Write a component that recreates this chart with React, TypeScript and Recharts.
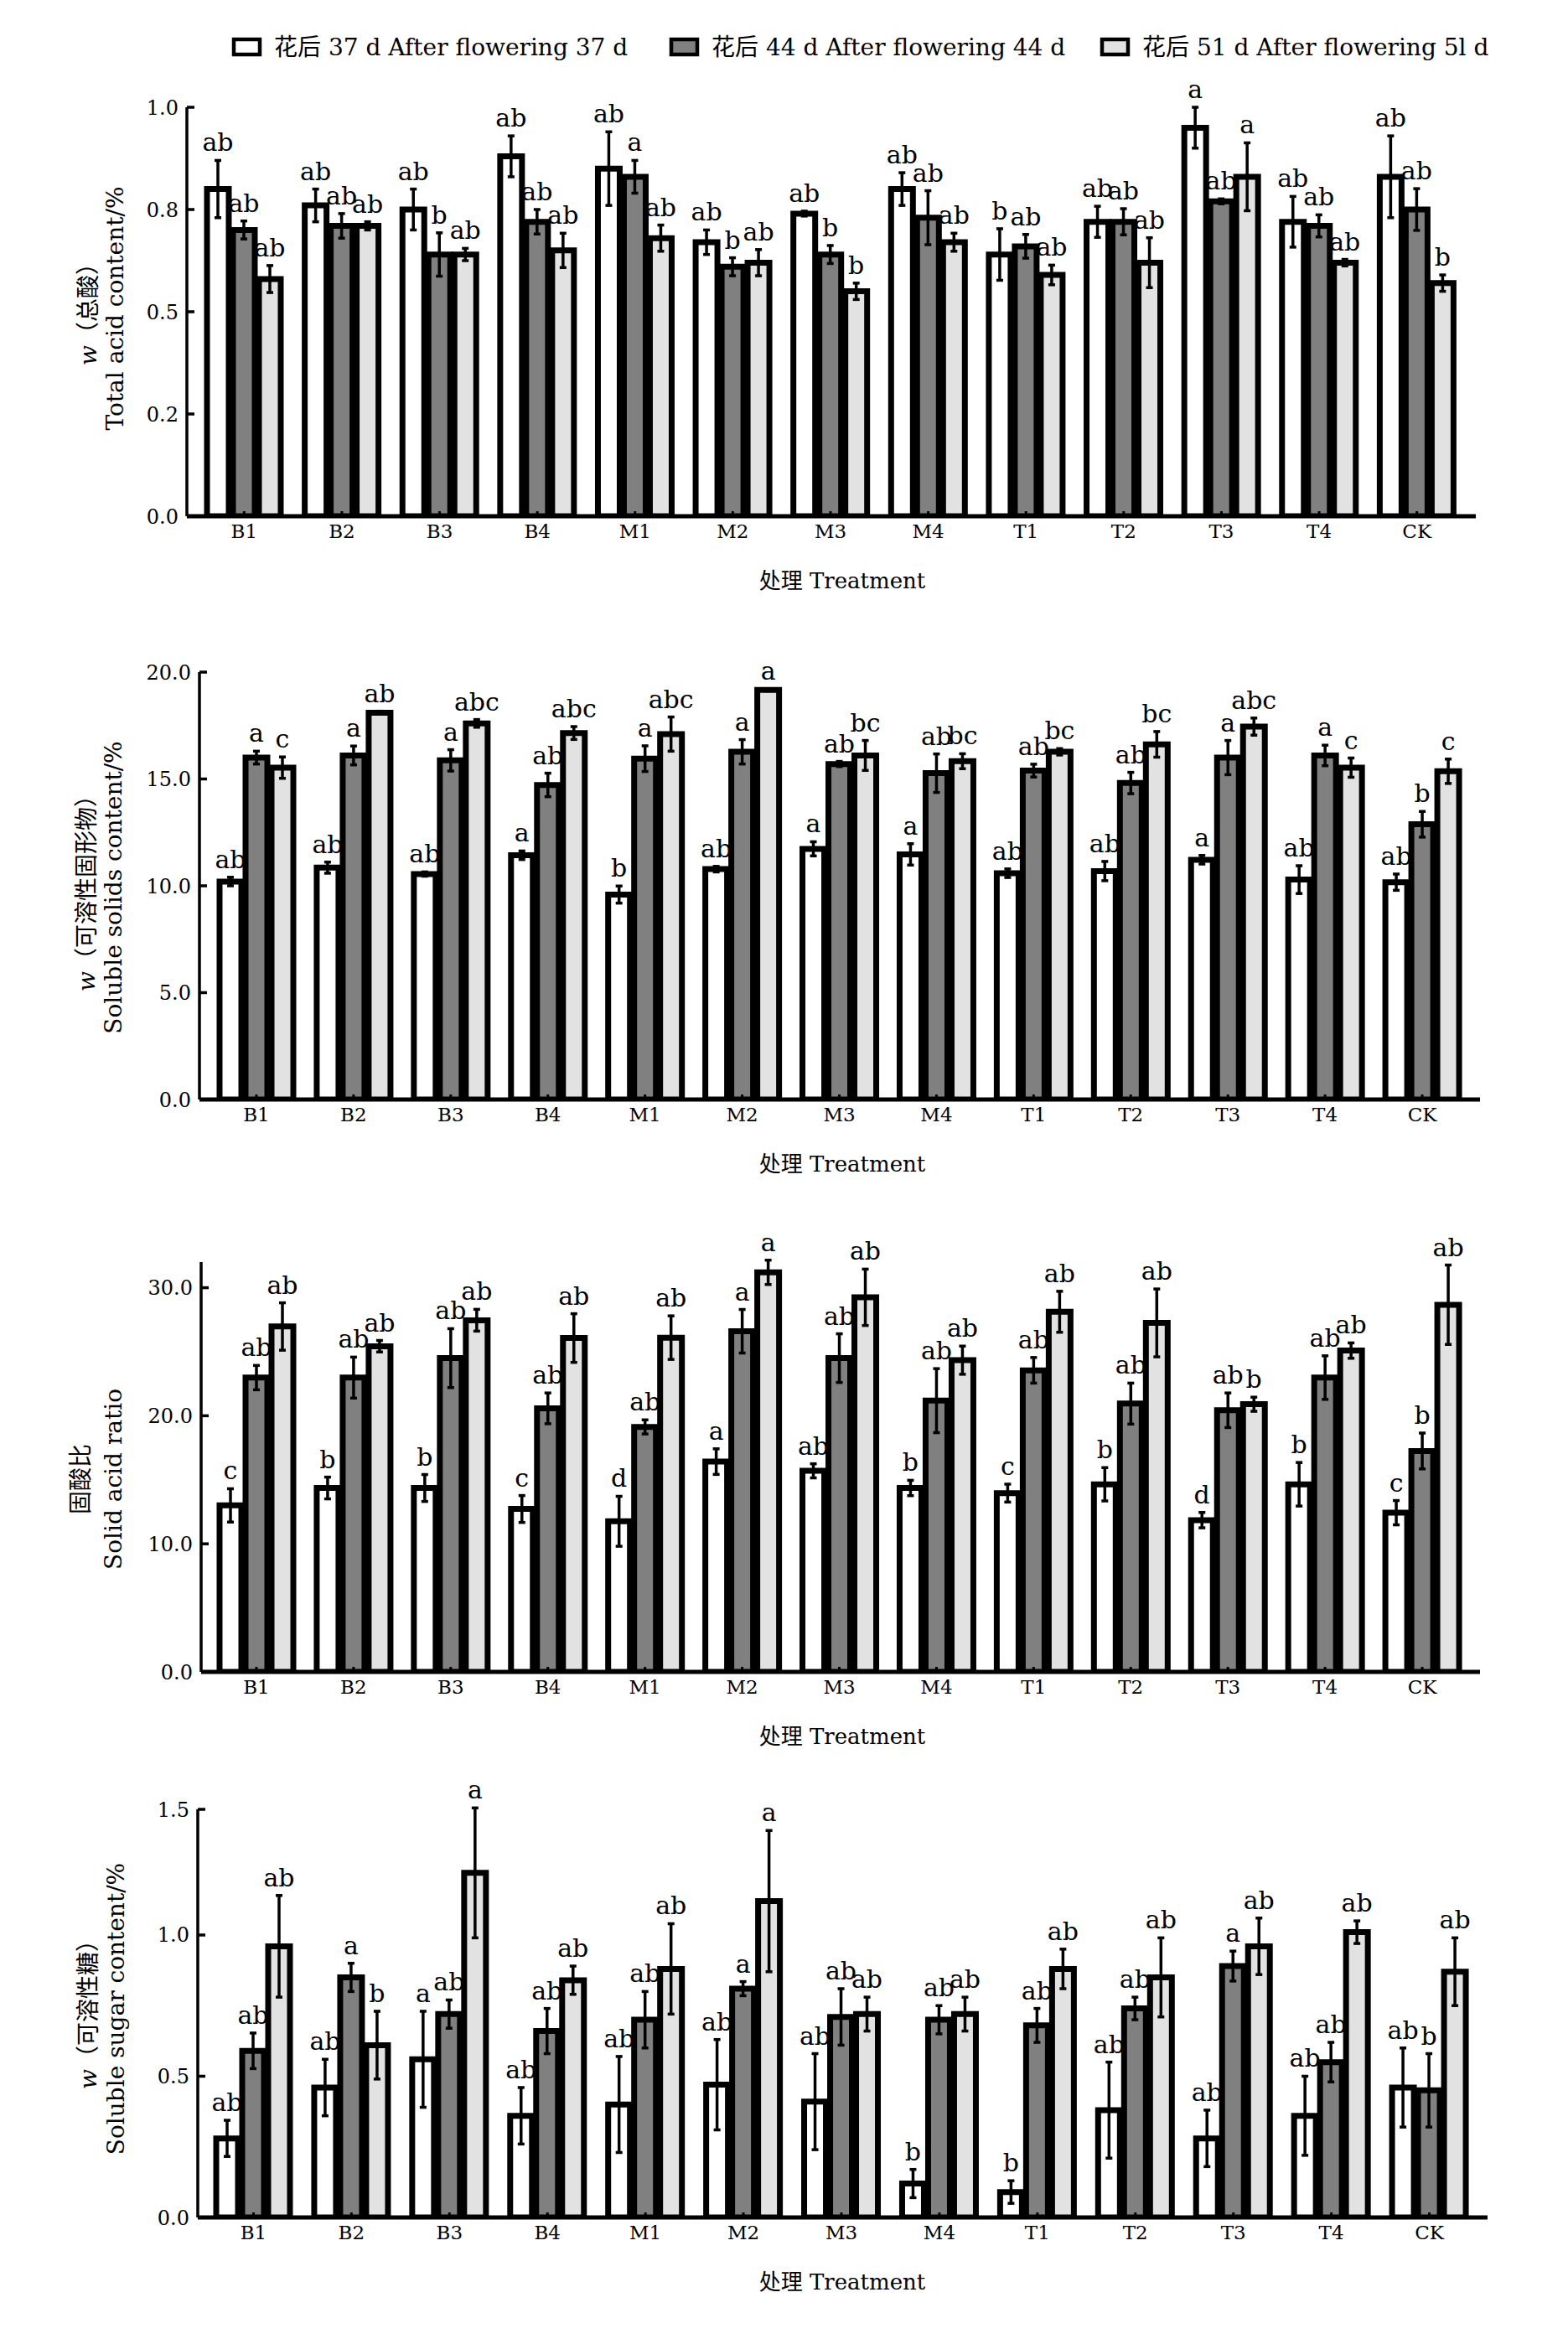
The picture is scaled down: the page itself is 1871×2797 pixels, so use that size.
import React from "react";
import { BarChart, Bar, XAxis, YAxis, ErrorBar, LabelList } from "recharts";

const categories = ["B1", "B2", "B3", "B4", "M1", "M2", "M3", "M4", "T1", "T2", "T3", "T4", "CK"];
const seriesNames = [
  "花后 37 d After flowering 37 d",
  "花后 44 d After flowering 44 d",
  "花后 51 d After flowering 5l d",
];

// w(总酸) Total acid content/%
const acid37 = [0.80, 0.76, 0.75, 0.88, 0.85, 0.67, 0.74, 0.80, 0.64, 0.72, 0.95, 0.72, 0.83];
const acid44 = [0.70, 0.71, 0.64, 0.72, 0.83, 0.61, 0.64, 0.73, 0.66, 0.72, 0.77, 0.71, 0.75];
const acid51 = [0.58, 0.71, 0.64, 0.65, 0.68, 0.62, 0.55, 0.67, 0.59, 0.62, 0.83, 0.62, 0.57];
const acidErr37 = [0.07, 0.04, 0.05, 0.05, 0.09, 0.03, 0.006, 0.04, 0.063, 0.038, 0.05, 0.062, 0.1];
const acidErr44 = [0.022, 0.03, 0.053, 0.03, 0.04, 0.022, 0.022, 0.066, 0.029, 0.032, 0.006, 0.027, 0.051];
const acidErr51 = [0.033, 0.01, 0.015, 0.042, 0.032, 0.032, 0.02, 0.022, 0.024, 0.061, 0.083, 0.008, 0.02];
const acidSig37 = ["ab", "ab", "ab", "ab", "ab", "ab", "ab", "ab", "b", "ab", "a", "ab", "ab"];
const acidSig44 = ["ab", "ab", "b", "ab", "a", "b", "b", "ab", "ab", "ab", "ab", "ab", "ab"];
const acidSig51 = ["ab", "ab", "ab", "ab", "ab", "ab", "b", "ab", "ab", "ab", "a", "ab", "b"];
const acidTicks = [0, 0.25, 0.5, 0.75, 1];
const acidTickLabels = ["0.0", "0.2", "0.5", "0.8", "1.0"];

// w(可溶性固形物) Soluble solids content/%
const solids37 = [10.2, 10.85, 10.55, 11.43, 9.59, 10.78, 11.73, 11.47, 10.59, 10.69, 11.22, 10.29, 10.17];
const solids44 = [16.0, 16.1, 15.87, 14.72, 15.95, 16.27, 15.7, 15.27, 15.39, 14.81, 16.0, 16.1, 12.88];
const solids51 = [15.53, 18.1, 17.6, 17.15, 17.1, 19.17, 16.1, 15.83, 16.27, 16.62, 17.45, 15.53, 15.36];
const solidsErr37 = [0.2, 0.26, 0.1, 0.2, 0.4, 0.13, 0.33, 0.5, 0.2, 0.45, 0.2, 0.65, 0.38];
const solidsErr44 = [0.3, 0.44, 0.5, 0.55, 0.6, 0.57, 0.12, 0.9, 0.3, 0.5, 0.8, 0.48, 0.6];
const solidsErr51 = [0.5, 0.07, 0.18, 0.3, 0.8, 0.05, 0.7, 0.35, 0.15, 0.6, 0.4, 0.45, 0.57];
const solidsSig37 = ["ab", "ab", "ab", "a", "b", "ab", "a", "a", "ab", "ab", "a", "ab", "ab"];
const solidsSig44 = ["a", "a", "a", "ab", "a", "a", "ab", "ab", "ab", "ab", "a", "a", "b"];
const solidsSig51 = ["c", "ab", "abc", "abc", "abc", "a", "bc", "bc", "bc", "bc", "abc", "c", "c"];
const solidsTicks = [0, 5, 10, 15, 20];
const solidsTickLabels = ["0.0", "5.0", "10.0", "15.0", "20.0"];

// 固酸比 Solid acid ratio
const ratio37 = [13.0, 14.36, 14.36, 12.72, 11.76, 16.42, 15.7, 14.36, 13.96, 14.65, 11.85, 14.65, 12.43];
const ratio44 = [22.98, 22.98, 24.5, 20.58, 19.13, 26.6, 24.5, 21.18, 23.55, 20.95, 20.43, 22.98, 17.25];
const ratio51 = [26.97, 25.43, 27.46, 26.07, 26.1, 31.2, 29.25, 24.34, 28.12, 27.25, 20.9, 25.09, 28.67];
const ratioErr37 = [1.3, 0.85, 1.05, 1.05, 1.95, 1.0, 0.55, 0.6, 0.7, 1.3, 0.6, 1.7, 0.95];
const ratioErr44 = [0.95, 1.6, 2.3, 1.2, 0.55, 1.7, 1.9, 2.5, 1.0, 1.6, 1.35, 1.7, 1.4];
const ratioErr51 = [1.85, 0.45, 0.85, 1.9, 1.7, 0.95, 2.2, 1.1, 1.6, 2.65, 0.55, 0.6, 3.1];
const ratioSig37 = ["c", "b", "b", "c", "d", "a", "ab", "b", "c", "b", "d", "b", "c"];
const ratioSig44 = ["ab", "ab", "ab", "ab", "ab", "a", "ab", "ab", "ab", "ab", "ab", "ab", "b"];
const ratioSig51 = ["ab", "ab", "ab", "ab", "ab", "a", "ab", "ab", "ab", "ab", "b", "ab", "ab"];
const ratioTicks = [0, 10, 20, 30];
const ratioTickLabels = ["0.0", "10.0", "20.0", "30.0"];

// w(可溶性糖) Soluble sugar content/%
const sugar37 = [0.28, 0.46, 0.56, 0.36, 0.40, 0.47, 0.41, 0.12, 0.09, 0.38, 0.28, 0.36, 0.46];
const sugar44 = [0.59, 0.85, 0.72, 0.66, 0.70, 0.81, 0.71, 0.70, 0.68, 0.74, 0.89, 0.55, 0.45];
const sugar51 = [0.96, 0.61, 1.22, 0.84, 0.88, 1.12, 0.72, 0.72, 0.88, 0.85, 0.96, 1.01, 0.87];
const sugarErr37 = [0.064, 0.1, 0.17, 0.1, 0.17, 0.16, 0.17, 0.05, 0.04, 0.17, 0.1, 0.14, 0.14];
const sugarErr44 = [0.063, 0.05, 0.05, 0.08, 0.1, 0.025, 0.1, 0.05, 0.06, 0.04, 0.053, 0.07, 0.13];
const sugarErr51 = [0.18, 0.12, 0.23, 0.05, 0.16, 0.25, 0.06, 0.06, 0.07, 0.14, 0.1, 0.04, 0.12];
const sugarSig37 = ["ab", "ab", "a", "ab", "ab", "ab", "ab", "b", "b", "ab", "ab", "ab", "ab"];
const sugarSig44 = ["ab", "a", "ab", "ab", "ab", "a", "ab", "ab", "ab", "ab", "a", "ab", "b"];
const sugarSig51 = ["ab", "b", "a", "ab", "ab", "a", "ab", "ab", "ab", "ab", "ab", "ab", "ab"];
const sugarTicks = [0, 0.5, 1, 1.445];
const sugarTickLabels = ["0.0", "0.5", "1.0", "1.5"];

const SERIF = "'DejaVu Serif', 'Noto Sans CJK SC', serif";
const FILLS = ["#ffffff", "#808080", "#e2e2e2"];
const PAGE_W = 1871;
const X_AXIS_H = 60;
const BAR_GAP = 5;

const panels = [
  {
    values: [acid37, acid44, acid51],
    errors: [acidErr37, acidErr44, acidErr51],
    sigs: [acidSig37, acidSig44, acidSig51],
    ticks: acidTicks,
    tickLabels: acidTickLabels,
    max: 1,
    zh: "（总酸）",
    italicW: true,
    en: "Total acid content/%",
    layout: { top: 0, height: 720, plotTop: 128, plotBottom: 616, axisX: 223, axisEnd: 1761, padL: 10, padR: 12, titleY: 368, zhX: 105, enX: 137 },
  },
  {
    values: [solids37, solids44, solids51],
    errors: [solidsErr37, solidsErr44, solidsErr51],
    sigs: [solidsSig37, solidsSig44, solidsSig51],
    ticks: solidsTicks,
    tickLabels: solidsTickLabels,
    max: 20,
    zh: "（可溶性固形物）",
    italicW: true,
    en: "Soluble solids content/%",
    layout: { top: 720, height: 700, plotTop: 802, plotBottom: 1312, axisX: 238, axisEnd: 1766, padL: 10, padR: 11, titleY: 1059, zhX: 103, enX: 135 },
  },
  {
    values: [ratio37, ratio44, ratio51],
    errors: [ratioErr37, ratioErr44, ratioErr51],
    sigs: [ratioSig37, ratioSig44, ratioSig51],
    ticks: ratioTicks,
    tickLabels: ratioTickLabels,
    max: 32,
    zh: "固酸比",
    italicW: false,
    en: "Solid acid ratio",
    layout: { top: 1420, height: 690, plotTop: 1506, plotBottom: 1995, axisX: 240, axisEnd: 1766, padL: 8, padR: 11, titleY: 1765, zhX: 96, enX: 135 },
  },
  {
    values: [sugar37, sugar44, sugar51],
    errors: [sugarErr37, sugarErr44, sugarErr51],
    sigs: [sugarSig37, sugarSig44, sugarSig51],
    ticks: sugarTicks,
    tickLabels: sugarTickLabels,
    max: 1.445,
    zh: "（可溶性糖）",
    italicW: true,
    en: "Soluble sugar content/%",
    layout: { top: 2110, height: 687, plotTop: 2159, plotBottom: 2646, axisX: 236, axisEnd: 1775, padL: 8, padR: 11, titleY: 2397, zhX: 105, enX: 138 },
  },
];

// Letters for the whole group, drawn from the last bar so they sit above every bar.
// value is "sig0|err0|val0|sig1|err1|val1|sig2|err2|val2"
const GroupLabels = (props: any) => {
  const vb = props.viewBox && props.viewBox.width !== undefined ? props.viewBox : props;
  const { x, y, width, height } = vb;
  const parts = String(props.value).split("|");
  const last = Number(parts[8]);
  if (!(last > 0)) return null;
  const pxPerUnit = height / last;
  const base = y + height;
  return (
    <g>
      {[0, 1, 2].map((k) => {
        const sig = parts[k * 3];
        const err = Number(parts[k * 3 + 1]);
        const val = Number(parts[k * 3 + 2]);
        const cx = x + width / 2 - (2 - k) * (width + BAR_GAP);
        const top = base - (val + err) * pxPerUnit;
        return (
          <text key={k} x={cx} y={top - 11} textAnchor="middle" fontSize={30} fontFamily={SERIF} fill="#000">
            {sig}
          </text>
        );
      })}
    </g>
  );
};

function Panel({ p }: { p: any }) {
  const L = p.layout;
  const rows = categories.map((name, i) => ({
    name,
    v0: p.values[0][i], v1: p.values[1][i], v2: p.values[2][i],
    e0: p.errors[0][i], e1: p.errors[1][i], e2: p.errors[2][i],
    s0: p.sigs[0][i], s1: p.sigs[1][i], s2: p.sigs[2][i],
  }));
  const margin = {
    top: L.plotTop - L.top,
    right: PAGE_W - L.axisEnd,
    bottom: L.top + L.height - L.plotBottom - X_AXIS_H,
    left: 0,
  };
  const yTitle = () => (
    <g>
      <text
        transform={`translate(${L.zhX},${L.titleY - L.top}) rotate(-90)`}
        textAnchor="middle"
        dominantBaseline="central"
        fontSize={28}
        fontFamily={SERIF}
        fill="#000"
      >
        {p.italicW && <tspan fontStyle="italic">w</tspan>}
        {p.zh}
      </text>
      <text
        transform={`translate(${L.enX},${L.titleY - L.top}) rotate(-90)`}
        textAnchor="middle"
        dominantBaseline="central"
        fontSize={28}
        fontFamily={SERIF}
        fill="#000"
      >
        {p.en}
      </text>
    </g>
  );
  const xTitle = () => (
    <text x={1005} y={L.plotBottom - L.top + 77} textAnchor="middle" dominantBaseline="central" fontSize={26} fontFamily={SERIF} fill="#000">
      处理 Treatment
    </text>
  );
  const groupKey = (d: any) =>
    [d.s0, d.e0, d.v0, d.s1, d.e1, d.v1, d.s2, d.e2, d.v2].join("|");
  return (
    <div style={{ position: "absolute", left: 0, top: L.top }}>
      <BarChart width={PAGE_W} height={L.height} data={rows} margin={margin} barCategoryGap={14} barGap={BAR_GAP}>
        <XAxis
          dataKey="name"
          height={X_AXIS_H}
          padding={{ left: L.padL, right: L.padR }}
          axisLine={{ stroke: "#000", strokeWidth: 5 }}
          tickLine={{ stroke: "#000", strokeWidth: 3 }}
          tickSize={-6}
          tickMargin={16}
          interval={0}
          tick={{ fontSize: 23, fill: "#000", fontFamily: SERIF }}
          label={xTitle}
        />
        <YAxis
          width={L.axisX}
          domain={[0, p.max]}
          allowDataOverflow
          ticks={p.ticks}
          interval={0}
          tickFormatter={(v: number) => p.tickLabels[p.ticks.indexOf(v)] ?? String(v)}
          axisLine={{ stroke: "#000", strokeWidth: 3.5 }}
          tickLine={{ stroke: "#000", strokeWidth: 3.5 }}
          tickSize={-9}
          tickMargin={19}
          tick={{ fontSize: 24, fill: "#000", fontFamily: SERIF }}
          label={yTitle}
        />
        {[0, 1, 2].map((k) => (
          <Bar key={k} dataKey={`v${k}`} fill={FILLS[k]} stroke="#000" strokeWidth={7} isAnimationActive={false}>
            <ErrorBar dataKey={`e${k}`} width={4} stroke="#000" strokeWidth={3.5} isAnimationActive={false} />
            {k === 2 && <LabelList dataKey={groupKey} content={GroupLabels} />}
          </Bar>
        ))}
      </BarChart>
    </div>
  );
}

const legendX = [279, 801, 1315];

function TopLegend() {
  return (
    <svg width={PAGE_W} height={100} style={{ position: "absolute", left: 0, top: 0 }}>
      {seriesNames.map((name, i) => (
        <g key={name}>
          <rect x={legendX[i]} y={47} width={31} height={18} fill={FILLS[i]} stroke="#000" strokeWidth={4.5} />
          <text x={legendX[i] + 48} y={66} fontSize={28} fontFamily={SERIF} fill="#000">
            {name}
          </text>
        </g>
      ))}
    </svg>
  );
}

export default function App() {
  return (
    <div style={{ position: "absolute", left: 0, top: 0, width: PAGE_W, height: 2797, background: "#fff" }}>
      <TopLegend />
      {panels.map((p, i) => (
        <Panel key={i} p={p} />
      ))}
    </div>
  );
}
